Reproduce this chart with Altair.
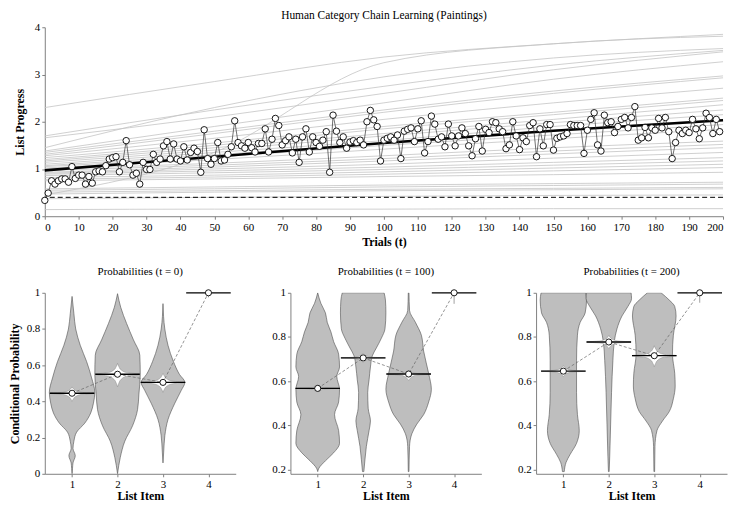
import altair as alt
import pandas as pd

FONT = "Liberation Serif"

# ---------------- top panel data ----------------
TITLE = "Human Category Chain Learning (Paintings)"
trials = list(range(200))
progress = [
    0.335, 0.49, 0.75, 0.68, 0.75, 0.79, 0.79, 0.72, 1.05, 0.80,
    0.87, 0.87, 0.68, 0.84, 0.70, 0.94, 0.96, 0.94, 1.07, 1.21,
    1.24, 1.26, 0.94, 1.14, 1.60, 1.09, 0.87, 0.91, 0.68, 1.14,
    0.99, 0.99, 1.31, 1.14, 1.21, 1.49, 1.58, 1.21, 1.53, 1.21,
    1.17, 1.47, 1.19, 1.35, 1.44, 1.37, 0.93, 1.83, 1.22, 1.10,
    1.22, 1.56, 1.17, 1.19, 1.31, 1.47, 2.02, 1.56, 1.49, 1.44,
    1.56, 1.45, 1.36, 1.54, 1.54, 1.85, 1.36, 1.63, 2.07, 1.92,
    1.51, 1.60, 1.68, 1.34, 1.63, 1.14, 1.68, 1.85, 1.36, 1.68,
    1.56, 1.48, 1.61, 1.79, 0.93, 2.14, 1.80, 1.56, 1.68, 1.44,
    1.57, 1.60, 1.56, 1.61, 1.51, 2.00, 2.24, 2.04, 1.90, 1.17,
    1.61, 1.65, 1.68, 1.61, 1.72, 1.22, 1.80, 1.84, 1.87, 1.58,
    1.85, 2.02, 1.34, 1.58, 2.12, 1.95, 1.63, 1.68, 1.47, 1.95,
    1.70, 1.49, 1.70, 1.87, 1.75, 1.49, 1.28, 1.64, 1.90, 1.38,
    1.84, 1.77, 2.00, 1.98, 1.85, 1.79, 1.43, 1.51, 2.00, 1.70,
    1.41, 1.66, 1.58, 1.92, 1.98, 1.26, 1.85, 1.49, 1.94, 1.94,
    1.40, 1.65, 1.68, 1.70, 1.75, 1.94, 1.92, 1.92, 1.92, 1.33,
    1.82, 2.05, 2.19, 1.51, 1.38, 2.14, 1.98, 2.00, 1.77, 1.90,
    2.05, 2.09, 1.87, 2.09, 2.32, 1.61, 1.66, 1.88, 1.66, 1.87,
    1.82, 2.07, 1.87, 2.09, 1.79, 1.22, 1.56, 1.82, 1.75, 1.82,
    1.77, 2.05, 1.85, 1.64, 1.87, 2.18, 2.09, 1.75, 2.05, 1.79,
]
fit_trials = [0, 50, 100, 150, 200]
fit_progress = [0.97, 1.26, 1.55, 1.81, 2.03]
chance_level = 0.40

subject_trials = [0, 50, 100, 150, 200]
subject_progress = [
    [2.30, 2.85, 3.37, 3.65, 3.85],
    [0.45, 1.35, 3.25, 3.65, 3.81],
    [1.45, 2.30, 2.95, 3.35, 3.55],
    [1.70, 2.25, 2.75, 3.20, 3.51],
    [1.66, 2.10, 2.60, 3.10, 3.48],
    [1.38, 1.90, 2.40, 2.90, 3.27],
    [1.35, 1.80, 2.25, 2.65, 2.97],
    [1.31, 1.75, 2.20, 2.60, 2.93],
    [1.28, 1.65, 2.05, 2.40, 2.71],
    [1.24, 1.55, 1.90, 2.20, 2.50],
    [1.20, 1.50, 1.85, 2.15, 2.45],
    [1.17, 1.45, 1.75, 2.05, 2.36],
    [1.14, 1.40, 1.70, 1.98, 2.25],
    [1.10, 1.35, 1.60, 1.90, 2.15],
    [1.07, 1.30, 1.55, 1.82, 2.05],
    [1.05, 1.25, 1.50, 1.72, 1.94],
    [1.02, 1.20, 1.42, 1.64, 1.84],
    [1.00, 1.12, 1.28, 1.45, 1.59],
    [0.97, 1.08, 1.22, 1.38, 1.52],
    [0.93, 1.04, 1.17, 1.32, 1.45],
    [0.91, 1.00, 1.10, 1.23, 1.35],
    [0.89, 0.96, 1.04, 1.14, 1.24],
    [0.86, 0.92, 0.99, 1.08, 1.17],
    [0.82, 0.87, 0.94, 1.02, 1.10],
    [0.78, 0.83, 0.89, 0.96, 1.03],
    [0.75, 0.79, 0.84, 0.88, 0.93],
    [0.58, 0.62, 0.66, 0.69, 0.72],
    [0.55, 0.58, 0.62, 0.65, 0.68],
    [0.51, 0.54, 0.57, 0.59, 0.61],
    [0.47, 0.51, 0.54, 0.56, 0.58],
    [0.37, 0.40, 0.42, 0.44, 0.45],
    [0.14, 0.15, 0.15, 0.16, 0.16],
]

# ---------------- bottom panels data ----------------
list_items = [1, 2, 3, 4]
panel_titles = ["Probabilities (t = 0)", "Probabilities (t = 100)", "Probabilities (t = 200)"]
panel_means = [
    [0.445, 0.55, 0.505, 1.0],
    [0.567, 0.705, 0.632, 1.0],
    [0.645, 0.777, 0.715, 1.0],
]
star_below = [[0.045, 0.07, 0.055], [0.015, 0.02, 0.03], [0.025, 0.03, 0.05]]
star_above = [[0.035, 0.06, 0.05], [0.012, 0.02, 0.015], [0.025, 0.03, 0.045]]
item4_tick_end = [0.975, 0.95, 0.955]
# (value, half-width in list-item units)
violin_profiles = [
    [
        [(0.0, 0.0), (0.03, 0.01), (0.06, 0.02), (0.10, 0.07), (0.14, 0.02), (0.18, 0.04),
         (0.23, 0.10), (0.28, 0.28), (0.336, 0.41), (0.39, 0.47), (0.45, 0.50), (0.53, 0.43),
         (0.62, 0.32), (0.71, 0.18), (0.80, 0.08), (0.885, 0.04), (0.98, 0.0)],
        [(0.0, 0.0), (0.09, 0.06), (0.18, 0.16), (0.265, 0.33), (0.354, 0.44), (0.44, 0.47),
         (0.55, 0.50), (0.655, 0.49), (0.74, 0.35), (0.83, 0.20), (0.92, 0.07), (0.995, 0.0)],
        [(0.06, 0.0), (0.12, 0.015), (0.21, 0.04), (0.30, 0.11), (0.39, 0.26), (0.46, 0.40),
         (0.505, 0.48), (0.55, 0.36), (0.62, 0.23), (0.71, 0.11), (0.80, 0.04), (0.94, 0.0)],
    ],
    [
        [(0.19, 0.0), (0.203, 0.02), (0.239, 0.17), (0.275, 0.35), (0.318, 0.48), (0.376, 0.46),
         (0.448, 0.37), (0.505, 0.46), (0.563, 0.48), (0.621, 0.42), (0.664, 0.48), (0.722, 0.46),
         (0.779, 0.35), (0.823, 0.29), (0.866, 0.21), (0.909, 0.17), (0.952, 0.07), (1.0, 0.0)],
        [(0.19, 0.015), (0.246, 0.04), (0.304, 0.07), (0.376, 0.13), (0.419, 0.16), (0.477, 0.11),
         (0.549, 0.10), (0.606, 0.13), (0.664, 0.16), (0.714, 0.20), (0.75, 0.29), (0.794, 0.40),
         (0.837, 0.48), (0.909, 0.50), (0.967, 0.49), (1.0, 0.46)],
        [(0.19, 0.008), (0.304, 0.02), (0.361, 0.07), (0.405, 0.18), (0.448, 0.33), (0.505, 0.44),
         (0.563, 0.50), (0.635, 0.44), (0.736, 0.33), (0.808, 0.28), (0.866, 0.15), (0.92, 0.02),
         (1.0, 0.008)],
    ],
    [
        [(0.19, 0.02), (0.232, 0.06), (0.268, 0.15), (0.318, 0.29), (0.376, 0.35), (0.448, 0.31),
         (0.549, 0.29), (0.693, 0.29), (0.808, 0.31), (0.866, 0.37), (0.909, 0.48), (0.967, 0.51),
         (1.0, 0.49)],
        [(0.19, 0.008), (0.26, 0.02), (0.405, 0.04), (0.549, 0.06), (0.693, 0.09), (0.779, 0.12),
         (0.837, 0.18), (0.895, 0.29), (0.938, 0.42), (0.974, 0.50), (1.0, 0.49)],
        [(0.19, 0.008), (0.304, 0.015), (0.376, 0.06), (0.419, 0.18), (0.462, 0.33), (0.52, 0.42),
         (0.578, 0.46), (0.635, 0.45), (0.722, 0.40), (0.808, 0.42), (0.895, 0.48), (0.938, 0.45),
         (0.967, 0.33), (1.0, 0.15)],
    ],
]
y_domains = [[0.0, 1.0], [0.18, 1.0], [0.18, 1.0]]
y_ticks = [[0, 0.2, 0.4, 0.6, 0.8, 1], [0.2, 0.4, 0.6, 0.8, 1], [0.2, 0.4, 0.6, 0.8, 1]]

# star (CI of mean) outline template: (fraction of vertical extent, half-width)
STAR = [(-1.0, 0.0), (-0.7, 0.03), (-0.4, 0.08), (-0.15, 0.2), (0.0, 0.49),
        (0.15, 0.2), (0.4, 0.08), (0.7, 0.03), (1.0, 0.0)]
BOX_HALF = 0.49

# ---------------- top chart ----------------
tx = alt.Scale(domain=[0, 200], nice=False)
ty = alt.Scale(domain=[0, 4], nice=False)
x_top = alt.X("t:Q", scale=tx, axis=alt.Axis(values=list(range(0, 201, 10)), title="Trials (t)",
                                              labelPadding=2, titlePadding=4, labelFlush=True))
y_top = alt.Y("v:Q", scale=ty, axis=alt.Axis(values=[0, 1, 2, 3, 4], title="List Progress",
                                              titlePadding=7.7))

subj_rows = []
for sid, curve in enumerate(subject_progress):
    for t, v in zip(subject_trials, curve):
        subj_rows.append({"id": sid, "t": t, "v": v})
subj_df = pd.DataFrame(subj_rows)

gray = alt.Chart(subj_df).mark_line(interpolate="monotone", color="#c4c4c4", strokeWidth=0.8).encode(
    x=x_top, y=y_top, detail="id:N")
chance = alt.Chart(pd.DataFrame({"v": [chance_level]})).mark_rule(
    color="black", strokeDash=[5, 3], strokeWidth=1).encode(y=alt.Y("v:Q", scale=ty))
data_df = pd.DataFrame({"t": trials, "v": progress})
fit_df = pd.DataFrame({"t": fit_trials, "v": fit_progress})
fit = alt.Chart(fit_df).mark_line(interpolate="monotone", color="black", strokeWidth=2.6).encode(x=x_top, y=y_top)
dline = alt.Chart(data_df).mark_line(color="#333333", strokeWidth=0.7).encode(x=x_top, y=y_top)
dpts = alt.Chart(data_df).mark_point(shape="circle", filled=True, fill="white", stroke="black",
                                     strokeWidth=0.9, size=42, opacity=1).encode(x=x_top, y=y_top)

top = alt.layer(gray, chance, fit, dline, dpts).properties(
    width=682, height=190,
    title=alt.TitleParams(TITLE, font=FONT, fontSize=11.5, fontWeight="normal", offset=0))

# ---------------- bottom panels ----------------
def make_panel(i):
    sx = alt.Scale(domain=[0.4, 4.6], nice=False, zero=False)
    sy = alt.Scale(domain=y_domains[i], nice=False, zero=False)
    xax = alt.Axis(values=list_items, title="List Item", labelPadding=2, titlePadding=1)
    if i == 0:
        yax = alt.Axis(values=y_ticks[i], title="Conditional Probability", format="~g", titlePadding=5)
    else:
        yax = alt.Axis(values=y_ticks[i], title=None, format="~g")

    vrows = []
    for k, prof in enumerate(violin_profiles[i]):
        item = list_items[k]
        for v, hw in prof:
            vrows.append({"item": item, "v": v, "lo": item - hw, "hi": item + hw})
    vdf = pd.DataFrame(vrows).sort_values(["item", "v"])

    srows = []
    for k in range(3):
        item = list_items[k]
        m = panel_means[i][k]
        for f, hw in STAR:
            ext = star_below[i][k] if f < 0 else star_above[i][k]
            srows.append({"item": item, "v": m + f * ext, "lo": item - hw, "hi": item + hw})
    sdf = pd.DataFrame(srows).sort_values(["item", "v"])

    mdf = pd.DataFrame({"item": list_items, "m": panel_means[i],
                        "lo": [it - BOX_HALF for it in list_items],
                        "hi": [it + BOX_HALF for it in list_items]})
    tdf = pd.DataFrame({"item": [4], "y1": [1.0], "y2": [item4_tick_end[i]]})

    X = lambda f: alt.X(f, scale=sx, axis=xax)
    Y = lambda f: alt.Y(f, scale=sy, axis=yax)

    violin = alt.Chart(vdf).mark_area(orient="horizontal", interpolate="monotone", fill="#bebebe",
                                      stroke="#4d4d4d", strokeWidth=0.6, clip=True).encode(
        y=Y("v:Q"), x=X("lo:Q"), x2="hi:Q", detail="item:N")
    star = alt.Chart(sdf).mark_area(orient="horizontal", interpolate="monotone", fill="white",
                                    stroke="#8a8a8a", strokeWidth=0.5).encode(
        y=Y("v:Q"), x=X("lo:Q"), x2="hi:Q", detail="item:N")
    med = alt.Chart(mdf).mark_rule(color="black", strokeWidth=1.3).encode(
        x=X("lo:Q"), x2="hi:Q", y=Y("m:Q"))
    tick = alt.Chart(tdf).mark_rule(color="#888888", strokeWidth=0.8).encode(
        x=X("item:Q"), y=Y("y1:Q"), y2="y2:Q")
    conn = alt.Chart(mdf).mark_line(color="#666666", strokeWidth=0.7, strokeDash=[3, 2]).encode(
        x=X("item:Q"), y=Y("m:Q"))
    pts = alt.Chart(mdf).mark_point(shape="circle", filled=True, fill="white", stroke="black",
                                    strokeWidth=0.9, size=38, opacity=1).encode(
        x=X("item:Q"), y=Y("m:Q"))
    return alt.layer(violin, star, med, tick, conn, pts).properties(
        width=192, height=182,
        title=alt.TitleParams(panel_titles[i], font=FONT, fontSize=11, fontWeight="normal", offset=10))

bottom = alt.hconcat(*[make_panel(i) for i in range(3)], spacing=36)

chart = alt.vconcat(top, bottom, spacing=19).properties(
    padding=0
).configure_view(
    stroke=None
).configure_axis(
    labelFont=FONT, titleFont=FONT, labelFontSize=11, titleFontSize=12, titleFontWeight="bold",
    labelColor="black", titleColor="black", grid=False, domainColor="#808080", tickColor="#808080",
    tickSize=3, labelPadding=2
).configure_title(font=FONT)

chart.save("out.html", embed_options={"renderer": "svg", "actions": False})
